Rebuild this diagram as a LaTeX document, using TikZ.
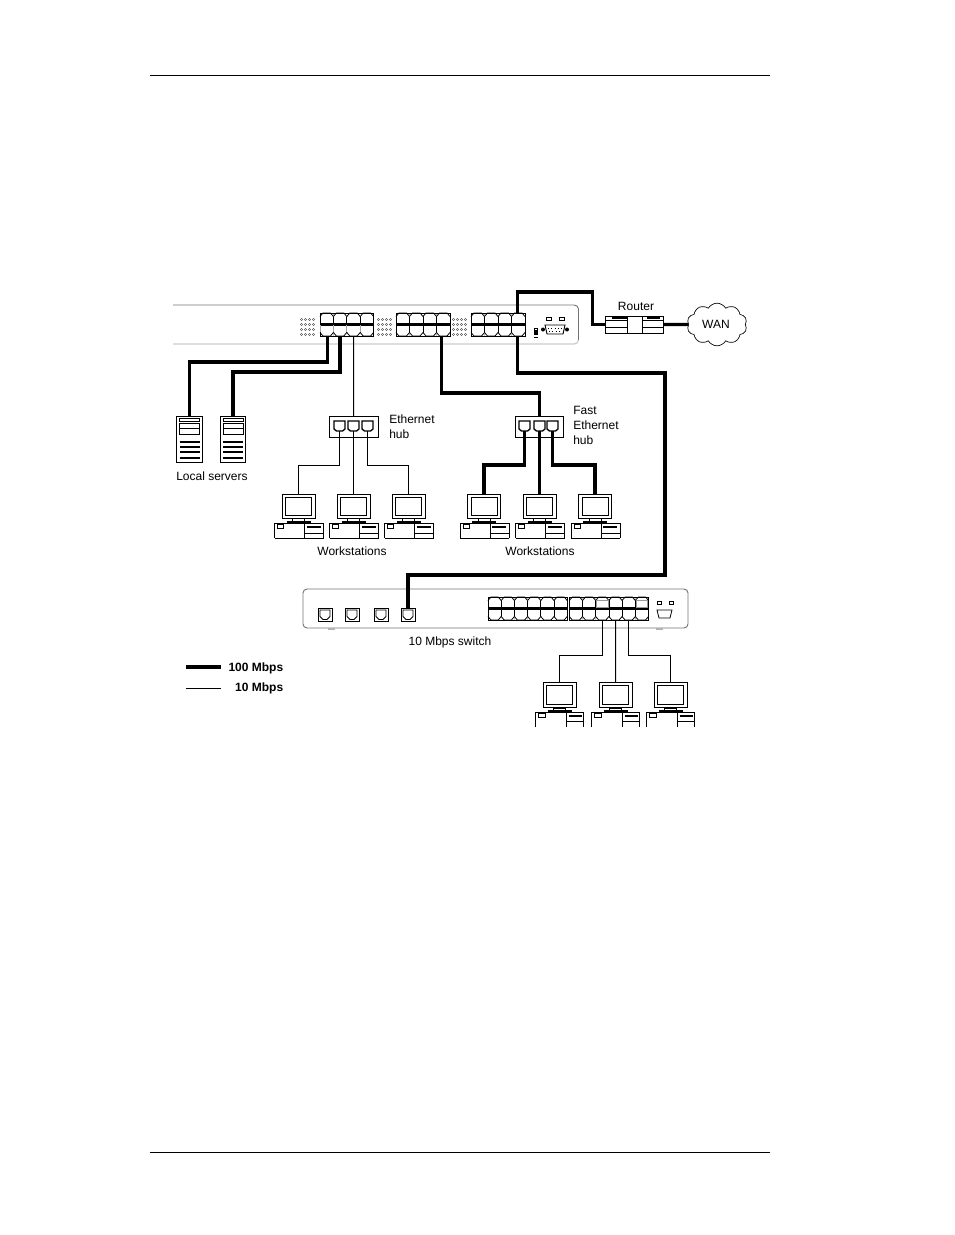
\documentclass[tikz,border=0pt]{standalone}
\usepackage{fontspec}
\setmainfont{Liberation Sans}
\usetikzlibrary{shapes.symbols}
\tikzset{
  thin wire/.style={draw,line width=0.75pt},
  thick wire/.style={draw,line width=2.5pt},
  box/.style={draw,line width=0.7pt,inner sep=0,outer sep=0,fill=white},
  portcell/.style={draw,line width=0.6pt,inner sep=0,outer sep=0,anchor=north west},
  lab/.style={font=\fontsize{9}{9}\selectfont,inner sep=0},
  workstation/.pic={
    \node[box,minimum width=24.7pt,minimum height=18pt] (-mon) at (0,506) {};
    \node[box,minimum width=19.5pt,minimum height=14pt] (-scr) at (0,506.5) {};
    \draw[line width=0.7pt] (-6,518) rectangle (6,522);
    \draw[line width=1.5pt] (-12,522) -- (12,522);
    \draw[line width=0.7pt] (-24,538) -- (-24,523) -- (25,523) -- (25,538);
    \draw[line width=0.7pt] (-24,538) -- (25,538);
    \draw[line width=0.7pt] (-21,524) rectangle (-15,528);
    \draw[line width=0.7pt] (6,523) -- (6,538) (6,533) -- (25,533);
    \draw[line width=1.2pt] (8,527) -- (22,527);
  },
  cutstation/.pic={
    \node[box,minimum width=24.7pt,minimum height=19pt] (-mon) at (0,695) {};
    \node[box,minimum width=19.5pt,minimum height=14pt] (-scr) at (0,695) {};
    \draw[line width=0.7pt] (-6,708) rectangle (6,711);
    \draw[line width=1.5pt] (-12,711) -- (12,711);
    \draw[line width=0.7pt] (-24,727) -- (-24,712) -- (24,712) -- (24,727);
    \draw[line width=0.7pt] (-21,713) rectangle (-14,717);
    \draw[line width=0.7pt] (7,712) -- (7,727) (7,721) -- (24,721);
    \draw[line width=1.2pt] (9,716) -- (22,716);
  },
  server/.pic={
    \node[box,minimum width=19.2pt,minimum height=34.5pt] (-case) at (0,439) {};
    \draw[line width=0.7pt] (-10,418) rectangle (10,421);
    \draw[line width=0.7pt] (-10,423) rectangle (10,434) (-10,428.5) -- (10,428.5);
    \foreach \y/\w in {442/1.8,447/1.8,452/1.8,458/1.3}
      \draw[line width=\w pt] (-10,\y) -- (10,\y);
  },
  hubjack/.pic={
    \draw[line width=1pt] (-5.5,-5) -- (5.5,-5) -- (5.5,3) -- (3,5) -- (-3,5) -- (-5.5,3) -- cycle;
    \coordinate (-bot) at (0,5);
  },
  swjack/.pic={
    \draw[line width=0.7pt] (-7,-6.5) -- (7,-6.5) -- (7,6.5) -- (-7,6.5) -- cycle;
    \draw[line width=0.7pt] (-5,-4.5) -- (5,-4.5) -- (5,2) -- (2,5) -- (-2,5) -- (-5,2) -- cycle;
    \coordinate (-top) at (0,-6.5);
  }
}
% #1 name, #2 left, #3 top, #4 cols, #5 cell width, #6 cell height
\newcommand{\portblock}[6]{
  \foreach \i in {1,...,#4} {
    \node[portcell,minimum width=#5*0.75pt,minimum height=#6*0.75pt] (#1t\i) at ({#2+(\i-1)*#5},#3) {};
    \node[portcell,minimum width=#5*0.75pt,minimum height=#6*0.75pt] (#1b\i) at ({#2+(\i-1)*#5},#3+#6) {};
  }
  \foreach \i in {1,...,#4} {
    \fill[white] (#1t\i.north west) -- ++(3,0) -- ++(-3,3.5) -- cycle;
    \fill[white] (#1t\i.north east) -- ++(-3,0) -- ++(3,3.5) -- cycle;
    \fill[white] (#1b\i.south west) -- ++(3,0) -- ++(-3,-3.5) -- cycle;
    \fill[white] (#1b\i.south east) -- ++(-3,0) -- ++(3,-3.5) -- cycle;
    \draw[line width=0.6pt] (#1t\i.north west) ++(0,3.5) -- ++(3,-3.5) -- ++(#5-6,0) -- ++(3,3.5);
    \draw[line width=0.6pt] (#1b\i.south west) ++(0,-3.5) -- ++(3,3.5) -- ++(#5-6,0) -- ++(3,-3.5);
  }
  \draw[line width=0.6pt] (#1t1.north west) rectangle (#1b#4.south east);
  \draw[line width=1.6pt] (#1t1.south west) -- (#1t#4.south east);
}
% #1 left, #2 top: four rows of panel dots
\newcommand{\leds}[2]{
  \foreach \r in {0,1,2,3}
    \foreach \c in {0,1,2,3}
      \draw[line width=0.3pt,black!70] (#1+\c*4+1.5,#2+\r*5+1.5) circle (1.1);
}
\begin{document}
\begin{tikzpicture}[x=0.75pt,y=-0.75pt]
\useasboundingbox (0,0) rectangle (954,1235);

% page rules
\coordinate (top1) at (150,75.5);
\coordinate (top2) at (770,75.5);
\coordinate (bot1) at (150,1152.5);
\coordinate (bot2) at (770,1152.5);
\draw[line width=0.6pt] (top1) -- (top2);
\draw[line width=0.6pt] (bot1) -- (bot2);

% Fast Ethernet switch
\draw[draw=black!55,line width=0.7pt] (173,305) -- (574,305) to[out=0,in=90] (578.5,309) -- (578.5,340);
\draw[draw=black!20,line width=0.9pt] (578.5,340) to[out=-90,in=0] (574,344) -- (173,344);
\leds{300}{318}
\leds{377}{318}
\leds{452}{318}
\portblock{pa}{320}{313}{4}{13.4}{11.5}
\portblock{pb}{396}{313}{4}{13.5}{11.5}
\portblock{pc}{471}{313}{4}{13.5}{11.5}
\foreach \i in {1,...,4}
  \draw[line width=0.6pt,black!35] (pab\i.north west) -- ++(0,7);
\draw[line width=0.7pt] (559,317) rectangle (564,320);
\draw[line width=0.7pt] (546,317) rectangle (551,320);
\draw[line width=0.7pt] (545,325) -- (565,325) -- (563,334) -- (547,334) -- cycle;
\draw[line width=0.5pt,dotted] (548,328) -- (562,328) (549,331) -- (561,331);
\fill (543,329.5) circle (2);
\fill (567,329.5) circle (2);
\fill (533.5,330) rectangle (538,335);
\draw[line width=0.7pt] (534.5,330) -- (534.5,328) -- (537,328) -- (537,330);
\draw[line width=0.7pt] (533.5,337) -- (538,337);

% router and WAN
\node[box,minimum width=43.5pt,minimum height=12.8pt] (router) at (634,324.5) {};
\draw[line width=0.7pt] (627,316) -- (627,333) (642,316) -- (642,333);
\draw[line width=0.7pt] (605,320) -- (627,320) (605,327) -- (627,327);
\draw[line width=0.7pt] (642,320) -- (663,320) (642,327) -- (663,327);
\draw[line width=1.6pt] (612,318) -- (627,318) (647,318) -- (660,318);
\node[lab] (routerlab) at (636,306.5) {Router};
\node[draw,cloud,cloud puffs=10,cloud puff arc=120,aspect=1.5,line width=0.5pt,inner sep=0,minimum width=45pt,minimum height=32pt] (wan) at (717,324.5) {};
\node[lab] (wanlab) at (716,324.5) {WAN};

% servers
\pic (srva) at (189.5,0) {server};
\pic (srvb) at (233,0) {server};
\node[lab] (srvlab) at (212,476) {Local servers};

% hubs
\node[box,minimum width=36.7pt,minimum height=15.7pt] (hubeth) at (353.7,426.5) {};
\node[box,minimum width=36pt,minimum height=15.7pt] (hubfast) at (539.5,426.5) {};
\pic (ja) at (339.5,426) {hubjack};
\pic (jb) at (353.5,426) {hubjack};
\pic (jc) at (367.5,426) {hubjack};
\pic (jd) at (524.5,426) {hubjack};
\pic (je) at (539.5,426) {hubjack};
\pic (jf) at (552.5,426) {hubjack};
\node[lab,align=left,anchor=west] (ethlab) at (389,426.5) {Ethernet\\[2pt]hub};
\node[lab,align=left,anchor=west] (fastlab) at (573,425.5) {Fast\\[2pt]Ethernet\\[2pt]hub};

% workstations
\foreach \n/\x in {wa/298.5,wb/353.5,wc/408.5,wd/484,we/539.5,wf/595}
  \pic (\n) at (\x,0) {workstation};
\foreach \n/\x in {wg/559.5,wh/615.5,wi/670.5}
  \pic (\n) at (\x,0) {cutstation};
\node[lab] (wslaba) at (352,551) {Workstations};
\node[lab] (wslabb) at (540,551) {Workstations};

% 10 Mbps switch
\draw[draw=black!55,line width=0.7pt,rounded corners=3pt] (303,628) rectangle (688,589);
\draw[black!30,line width=1pt] (328,629) -- (335,629) (656,629) -- (663,629);
\foreach \n/\x in {sa/325,sb/352,sc/381,sd/408}
  \pic (\n) at (\x,614.5) {swjack};
\portblock{qa}{488}{597}{6}{13.2}{11.5}
\portblock{qb}{569.3}{597}{6}{13.2}{11.5}
\foreach \i in {3,6}
  \fill[white] (qbt\i.north west) ++(1,3.5) rectangle ++(11.2,7);
\foreach \i in {3,6}
  \draw[black!40,line width=0.6pt] (qbt\i.north west) ++(1,3.5) rectangle ++(11.2,7);
\draw[line width=0.7pt] (657,601) rectangle (661,604);
\draw[line width=0.7pt] (669,601) rectangle (673,604);
\draw[line width=0.6pt] (657,610) -- (672,610) -- (670,618) -- (659,618) -- cycle;
\node[lab] (swlab) at (450,642) {10 Mbps switch};

% 100 Mbps links
\coordinate (bendsw) at (665,575);
\path[thick wire] ([xshift=0.5pt]pab1.south) -- ++(0,26) -| (srva-case.north);
\path[thick wire] (pab2.south) -- ++(0,36) -| (srvb-case.north);
\path[thick wire] ([xshift=-1.3pt]pbb4.south) -- ++(0,57) -| (hubfast.north);
\path[thick wire] ([xshift=-0.5pt]pct4.north) -- ++(0,-21) -- ++(75,0) |- (router.west);
\path[thick wire] (router.east) -- (wan.west);
\path[thick wire] ([xshift=-0.5pt]pcb4.south) -- ++(0,37) -| (bendsw) -| (sd-top);
\path[thick wire] (jd-bot) -- ++(0,34) -| (wd-mon.north);
\path[thick wire] (je-bot) -- (we-mon.north);
\path[thick wire] (jf-bot) -- ++(0,34) -| (wf-mon.north);

% 10 Mbps links
\path[thin wire] (pab3.south) -- (hubeth.north);
\path[thin wire] (ja-bot) -- ++(0,34) -| (wa-mon.north);
\path[thin wire] (jb-bot) -- (wb-mon.north);
\path[thin wire] (jc-bot) -- ++(0,34) -| (wc-mon.north);
\path[thin wire] (qbb3.south) -- ++(0,35) -| (wg-mon.north);
\path[thin wire] (qbb4.south) -- (wh-mon.north);
\path[thin wire] (qbb5.south) -- ++(0,35) -| (wi-mon.north);

% legend
\coordinate (lega1) at (186,667);
\coordinate (lega2) at (221,667);
\coordinate (legb1) at (186,688.5);
\coordinate (legb2) at (221,688.5);
\path[thick wire] (lega1) -- (lega2);
\path[thin wire] (legb1) -- (legb2);
\node[lab,font=\fontsize{9}{9}\selectfont\bfseries,anchor=east] (legalab) at (283.5,668) {100 Mbps};
\node[lab,font=\fontsize{9}{9}\selectfont\bfseries,anchor=east] (legblab) at (283.5,688) {10 Mbps};
\end{tikzpicture}
\end{document}
